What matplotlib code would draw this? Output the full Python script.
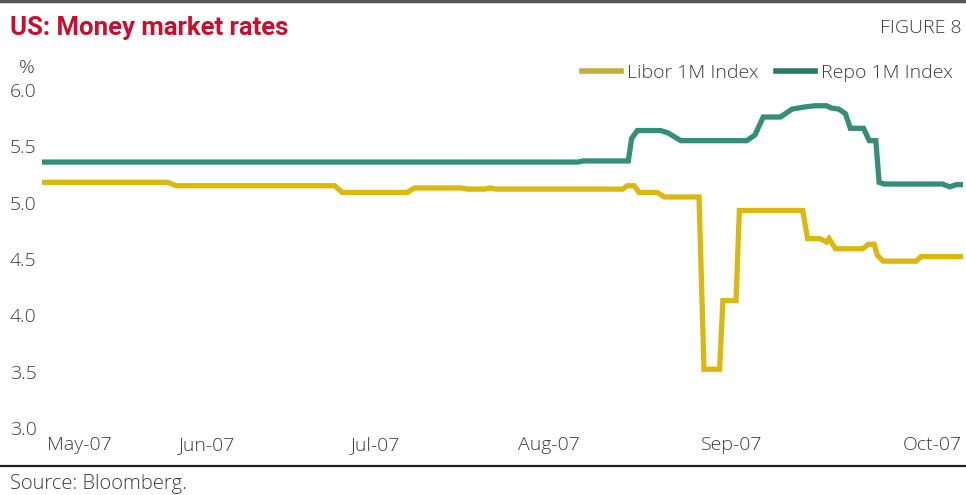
import matplotlib.pyplot as plt
from matplotlib import font_manager
from matplotlib.lines import Line2D

# business-day index (0 = start of May 2007) and rates in %
libor_days = [0, 15.3, 16.3, 35.6, 36.5, 44.4, 45.3, 50.9, 51.8, 53.8, 54.5, 55.2,
              70.6, 71.2, 72.0, 72.6, 74.8, 75.7, 79.9, 80.5, 82.4, 82.8, 84.4, 84.8,
              92.5, 93.1, 94.6, 95.4, 95.7, 96.5, 99.8, 100.5, 101.2, 101.6, 102.3,
              106.3, 106.9, 112]
libor_vals = [5.18, 5.18, 5.15, 5.15, 5.09, 5.09, 5.13, 5.13, 5.12, 5.12, 5.13, 5.12,
              5.12, 5.15, 5.15, 5.09, 5.09, 5.05, 5.05, 3.52, 3.52, 4.13, 4.13, 4.93,
              4.93, 4.68, 4.68, 4.65, 4.68, 4.59, 4.59, 4.63, 4.63, 4.53, 4.48,
              4.48, 4.52, 4.52]

repo_days = [0, 65.2, 65.8, 71.3, 71.7, 72.4, 75.2, 76.1, 77.7, 85.7, 86.7, 87.7,
             89.8, 91.2, 92.8, 94.0, 95.4, 96.0, 96.9, 97.7, 98.3, 99.9, 100.6, 101.4,
             101.8, 102.4, 109.5, 110.4, 111.2, 112]
repo_vals = [5.36, 5.36, 5.37, 5.37, 5.57, 5.64, 5.64, 5.62, 5.55, 5.55, 5.60, 5.76,
             5.76, 5.83, 5.85, 5.86, 5.86, 5.84, 5.83, 5.79, 5.66, 5.66, 5.55, 5.55,
             5.18, 5.165, 5.165, 5.14, 5.16, 5.16]

month_pos = [4.5, 20.0, 40.6, 61.6, 83.9, 108.3]
month_labels = ["May-07", "Jun-07", "Jul-07", "Aug-07", "Sep-07", "Oct-07"]
y_ticks = [3.0, 3.5, 4.0, 4.5, 5.0, 5.5, 6.0]

libor_color = "#dbb710"
repo_color = "#358e78"
title_color = "#c8102e"
text_color = "#3c3c3c"

installed = {f.name for f in font_manager.fontManager.ttflist}
narrow = "Liberation Sans Narrow" if "Liberation Sans Narrow" in installed else "Roboto"
plt.rcParams['font.family'] = ['Open Sans', 'DejaVu Sans']

fig = plt.figure(figsize=(9.66, 4.95), dpi=100)
ax = fig.add_axes([42 / 966, 1 - 427.8 / 495, 921 / 966, 337.8 / 495])

ax.plot(libor_days, libor_vals, color=libor_color, lw=3.8, solid_joinstyle='miter')
ax.plot(repo_days, repo_vals, color=repo_color, lw=3.8, solid_joinstyle='miter')

ax.set_xlim(0, 112)
ax.set_ylim(3.0, 6.0)
ax.set_xticks(month_pos)
ax.set_xticklabels(month_labels)
ax.set_yticks(y_ticks)
ax.set_yticklabels([f"{v:.1f}" for v in y_ticks])
ax.tick_params(length=0, labelsize=14, labelcolor=text_color)
ax.tick_params(axis='x', pad=6)
ax.tick_params(axis='y', pad=4)
for lab in ax.get_xticklabels() + ax.get_yticklabels():
    lab.set_fontweight('light')
for s in ax.spines.values():
    s.set_visible(False)

# titles and notes
fig.text(10 / 966, 1 - 28 / 495, "US: Money market rates", color=title_color,
         fontsize=18.5, fontweight='bold', family=[narrow, 'DejaVu Sans'], va='center')
fig.text(962 / 966, 1 - 28 / 495, "FIGURE 8", color=text_color, fontsize=14,
         fontweight='light', ha='right', va='center')
fig.text(19 / 966, 1 - 68 / 495, "%", color=text_color, fontsize=14,
         fontweight='light', va='center')
fig.text(10 / 966, 1 - 484 / 495, "Source: Bloomberg.", color=text_color,
         fontsize=14.5, fontweight='light', va='center')

# frame lines
fig.add_artist(Line2D([0, 1], [1 - 1 / 495, 1 - 1 / 495], color="#555555", lw=2.5))
fig.add_artist(Line2D([0, 1], [1 - 466 / 495, 1 - 466 / 495], color="#222222", lw=1.6))

handles = [Line2D([], [], color="#c4ad3c", lw=4), Line2D([], [], color="#2a7a60", lw=4)]
leg = fig.legend(handles, ["Libor 1M Index", "Repo 1M Index"], loc='center right',
                 bbox_to_anchor=(970 / 966, 1 - 73 / 495), ncol=2, frameon=False,
                 handlelength=2.0, handletextpad=0.3, columnspacing=0.9,
                 prop={'size': 14, 'weight': 'light'})
for t in leg.get_texts():
    t.set_color(text_color)

plt.savefig("out.png", dpi=100)
